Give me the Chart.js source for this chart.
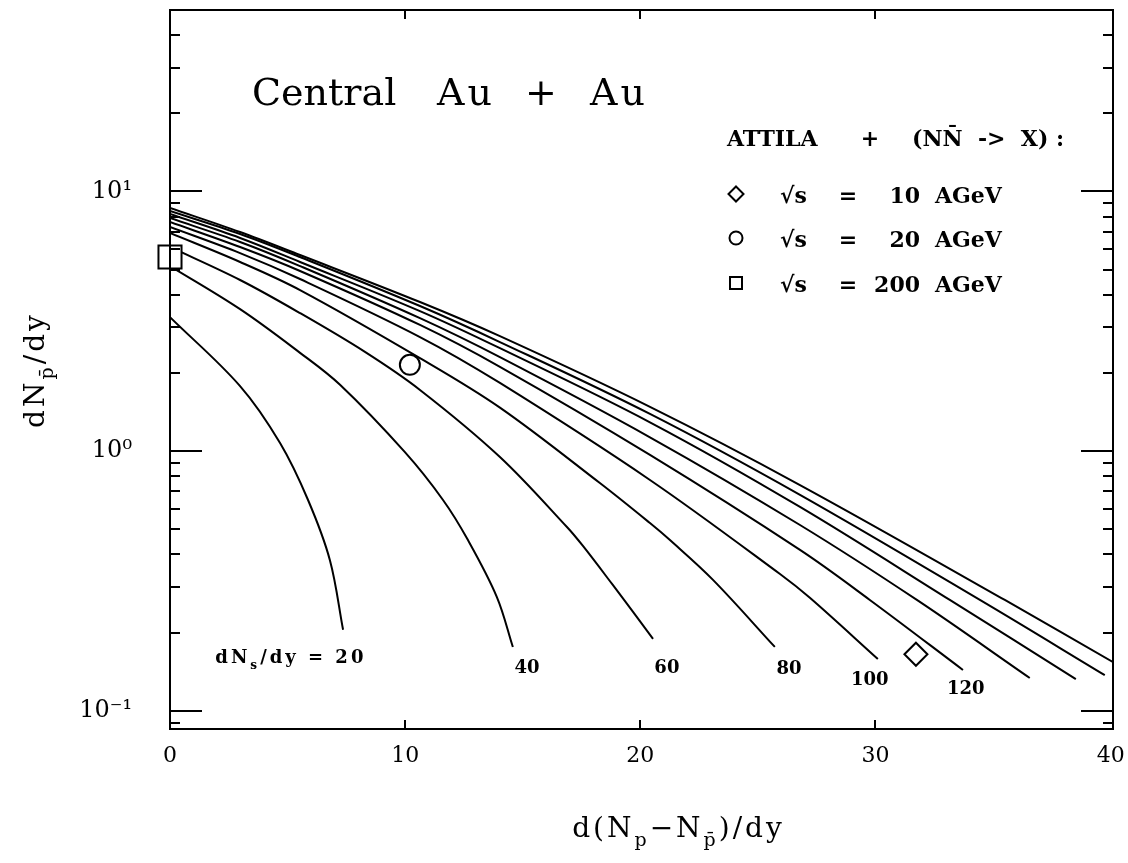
<!DOCTYPE html>
<html lang="en">
<head>
<meta charset="UTF-8">
<title>Central Au + Au</title>
<script src="https://cdn.jsdelivr.net/npm/chart.js@4.4.1/dist/chart.umd.min.js"></script>
<style>
  html, body { margin: 0; padding: 0; background: #fff; }
  #wrap { width: 1128px; height: 863px; }
</style>
</head>
<body>
<div id="wrap"><canvas id="chart" width="1128" height="863"></canvas></div>
<script>
// dNs/dy = 20 ... 200 (x = d(Np-Npbar)/dy, y = dNpbar/dy)
const curveNames = [20, 40, 60, 80, 100, 120, 140, 160, 180, 200];

const x20 = [0, 2.98, 4.68, 5.87, 6.80, 7.36];
const y20 = [3.28, 1.78, 1.074, 0.648, 0.380, 0.205];
const x40 = [0, 2.98, 5.53, 7.23, 9.99, 11.61, 12.67, 13.90, 14.58];
const y40 = [5.16, 3.52, 2.39, 1.80, 0.99, 0.648, 0.454, 0.274, 0.176];
const x60 = [0, 2.98, 5.53, 8.29, 10.63, 14.03, 16.88, 17.56, 18.83, 19.69, 20.54];
const y60 = [6.11, 4.56, 3.40, 2.41, 1.72, 0.949, 0.510, 0.431, 0.305, 0.240, 0.189];
const x80 = [0, 2.98, 5.53, 10.63, 14.03, 18.28, 20.41, 21.26, 23.09, 25.72];
const y80 = [6.92, 5.35, 4.17, 2.28, 1.47, 0.753, 0.528, 0.454, 0.319, 0.176];
const x100 = [0, 2.98, 5.53, 10.63, 14.03, 20.41, 25.94, 27.21, 30.10];
const y100 = [7.30, 5.79, 4.60, 2.75, 1.83, 0.774, 0.336, 0.272, 0.158];
const x120 = [0, 2.98, 5.53, 10.63, 14.03, 20.41, 26.79, 29.76, 33.72];
const y120 = [7.63, 6.11, 4.94, 3.06, 2.11, 0.966, 0.416, 0.267, 0.1435];
const x140 = [0, 2.98, 5.53, 10.63, 14.03, 20.41, 26.79, 31.76, 36.56];
const y140 = [7.90, 6.39, 5.16, 3.25, 2.30, 1.13, 0.519, 0.267, 0.1336];
const x160 = [0, 2.98, 5.53, 10.63, 14.03, 20.41, 26.79, 33.16, 38.52];
const y160 = [8.19, 6.62, 5.35, 3.46, 2.49, 1.29, 0.609, 0.267, 0.1324];
const x180 = [0, 2.98, 5.53, 10.63, 14.03, 20.41, 26.79, 34.44, 39.75];
const y180 = [8.41, 6.86, 5.59, 3.62, 2.63, 1.39, 0.678, 0.267, 0.137];
const x200 = [0, 2.98, 5.53, 10.63, 14.03, 20.41, 26.79, 35.50, 40.09];
const y200 = [8.64, 6.98, 5.69, 3.75, 2.77, 1.48, 0.740, 0.267, 0.154];

const curveX = [x20, x40, x60, x80, x100, x120, x140, x160, x180, x200];
const curveY = [y20, y40, y60, y80, y100, y120, y140, y160, y180, y200];

// ATTILA + (NNbar -> X) points: sqrt(s) = 10, 20, 200 AGeV
const pointEnergy = [10, 20, 200];
const pointX = [31.72, 10.2, 0];
const pointY = [0.165, 2.15, 5.59];
const pointStyles = ['rectRot', 'circle', 'rect'];
const pointRadii = [11.5, 10, 16.3];

// curve labels (placed in data coordinates)
const labelText = ['20', '40', '60', '80', '100', '120'];
const labelX = [5.14, 15.18, 21.13, 26.32, 29.76, 33.84];
const labelY = [0.1625, 0.1486, 0.1486, 0.147, 0.1336, 0.1233];

// axes
const xTicks = [0, 10, 20, 30, 40];
const yMajor = [0.1, 1, 10];
const yMinor = [0.09, 0.2, 0.3, 0.4, 0.5, 0.6, 0.7, 0.8, 0.9, 2, 3, 4, 5, 6, 7, 8, 9, 20, 30, 40];
const yTickText = { '0.1': '10\u207B\u00B9', '1': '10\u2070', '10': '10\u00B9' };

const SERIF = '"DejaVu Serif", "Liberation Serif", serif';

function richText(ctx, parts, x, y, size, weight, align, spacing) {
  ctx.save();
  ctx.textBaseline = 'alphabetic';
  ctx.textAlign = 'left';
  ctx.letterSpacing = (spacing || 0) + 'px';
  const fontFor = p => weight + ' ' + (p[1] ? Math.round(size * 0.68) : size) + 'px ' + SERIF;
  let w = 0;
  parts.forEach(p => { ctx.font = fontFor(p); w += ctx.measureText(p[0]).width; });
  let cx = align === 'center' ? x - w / 2 : (align === 'right' ? x - w : x);
  parts.forEach(p => {
    ctx.font = fontFor(p);
    const dy = p[1] === 'sub' ? size * 0.32 : 0;
    ctx.fillText(p[0], cx, y + dy);
    cx += ctx.measureText(p[0]).width;
  });
  ctx.restore();
}

function marker(ctx, style, x, y, r) {
  ctx.beginPath();
  if (style === 'circle') ctx.arc(x, y, r, 0, Math.PI * 2);
  else if (style === 'rect') ctx.rect(x - r, y - r, 2 * r, 2 * r);
  else { ctx.moveTo(x, y - r); ctx.lineTo(x + r, y); ctx.lineTo(x, y + r); ctx.lineTo(x - r, y); ctx.closePath(); }
  ctx.stroke();
}

const decor = {
  id: 'decor',
  afterDraw(chart) {
    const ctx = chart.ctx;
    const a = chart.chartArea;
    const xs = chart.scales.x, ys = chart.scales.y;
    ctx.save();
    ctx.strokeStyle = '#000';
    ctx.fillStyle = '#000';
    ctx.lineWidth = 2;

    // frame
    ctx.strokeRect(a.left, a.top, a.right - a.left, a.bottom - a.top);

    // inward ticks
    ctx.beginPath();
    yMajor.concat(yMinor).forEach(v => {
      const py = Math.round(ys.getPixelForValue(v));
      const len = yMajor.includes(v) ? 32 : 10;
      ctx.moveTo(a.left, py); ctx.lineTo(a.left + len, py);
      ctx.moveTo(a.right, py); ctx.lineTo(a.right - len, py);
    });
    xTicks.slice(1, -1).forEach(v => {
      const px = Math.round(xs.getPixelForValue(v));
      ctx.moveTo(px, a.bottom); ctx.lineTo(px, a.bottom - 9);
      ctx.moveTo(px, a.top); ctx.lineTo(px, a.top + 9);
    });
    ctx.stroke();

    // title
    ctx.font = '38px ' + SERIF;
    ctx.textBaseline = 'alphabetic';
    ctx.fillText('Central', 252, 105);
    ctx.letterSpacing = '3px';
    ctx.fillText('Au  +  Au', 437, 105);
    ctx.letterSpacing = '0px';

    // legend
    ctx.font = 'bold 22px ' + SERIF;
    ctx.fillText('ATTILA', 727, 146);
    ctx.textAlign = 'center';
    ctx.fillText('+', 870, 146);
    ctx.textAlign = 'left';
    ctx.fillText('(NN\u0304  ->  X) :', 912, 146);
    const rowY = [203, 247, 292];
    const legR = [7.5, 6.5, 6];
    pointEnergy.forEach((e, i) => {
      marker(ctx, pointStyles[i], 736, rowY[i] - 9, legR[i]);
      ctx.textAlign = 'left';
      ctx.fillText('\u221As', 780, rowY[i]);
      ctx.textAlign = 'center';
      ctx.fillText('=', 848, rowY[i]);
      ctx.textAlign = 'right';
      ctx.fillText(String(e), 920, rowY[i]);
      ctx.textAlign = 'left';
      ctx.fillText('AGeV', 935, rowY[i]);
    });

    // curve labels
    labelText.forEach((t, i) => {
      const px = xs.getPixelForValue(labelX[i]);
      const py = ys.getPixelForValue(labelY[i]) + 7;
      if (i === 0) {
        richText(ctx, [['dN'], ['s', 'sub'], ['/dy = ' + t]], px, py, 18, 'bold', 'center', 3);
      } else {
        richText(ctx, [[t]], px, py, 18, 'bold', 'center', 0);
      }
    });

    // axis titles
    richText(ctx, [['d(N'], ['p', 'sub'], ['\u2212N'], ['p\u0304', 'sub'], [')/dy']],
      (a.left + a.right) / 2 + 37, 837, 28, 'normal', 'center', 3);
    ctx.save();
    ctx.translate(44, 370);
    ctx.rotate(-Math.PI / 2);
    richText(ctx, [['dN'], ['p\u0304', 'sub'], ['/dy']], 0, 0, 28, 'normal', 'center', 3);
    ctx.restore();

    ctx.restore();
  }
};

const datasets = [{
  type: 'scatter',
  label: 'ATTILA + (NNbar -> X)',
  data: pointX.map((v, i) => ({ x: v, y: pointY[i] })),
  pointStyle: pointStyles,
  pointRadius: pointRadii,
  pointBorderWidth: 2,
  pointBorderColor: '#000',
  pointBackgroundColor: '#fff',
  showLine: false,
  clip: false,
  order: -1
}];
curveNames.forEach((n, k) => {
  datasets.push({
    type: 'line',
    label: 'dNs/dy = ' + n,
    data: curveX[k].map((v, i) => ({ x: v, y: curveY[k][i] })),
    borderColor: '#000',
    borderWidth: 2,
    pointRadius: 0,
    fill: false,
    tension: 0.35
  });
});

new Chart(document.getElementById('chart'), {
  type: 'line',
  data: { datasets },
  plugins: [decor],
  options: {
    responsive: false,
    animation: false,
    devicePixelRatio: 1,
    events: [],
    layout: { autoPadding: false, padding: { top: 10, right: 15, left: 0, bottom: 0 } },
    plugins: { legend: { display: false }, tooltip: { enabled: false } },
    scales: {
      x: {
        type: 'linear',
        bounds: 'data',
        min: 0,
        max: 40.1,
        grid: { display: false, drawTicks: false },
        border: { display: false },
        afterBuildTicks: s => { s.ticks = xTicks.map(v => ({ value: v })); },
        afterFit: s => { s.height = 134; s.paddingLeft = 0; s.paddingRight = 0; },
        ticks: {
          autoSkip: false,
          maxRotation: 0,
          padding: 14,
          color: '#000',
          font: { family: SERIF, size: 22 },
          callback: v => String(v)
        }
      },
      y: {
        type: 'logarithmic',
        bounds: 'data',
        min: 0.085,
        max: 50,
        grid: { display: false, drawTicks: false },
        border: { display: false },
        afterBuildTicks: s => { s.ticks = yMajor.map(v => ({ value: v })); },
        afterFit: s => { s.width = 170; s.paddingTop = 0; s.paddingBottom = 0; },
        ticks: {
          autoSkip: false,
          padding: 38,
          color: '#000',
          font: { family: SERIF, size: 24 },
          callback: v => yTickText[String(v)] || ''
        }
      }
    }
  }
});
</script>
</body>
</html>
